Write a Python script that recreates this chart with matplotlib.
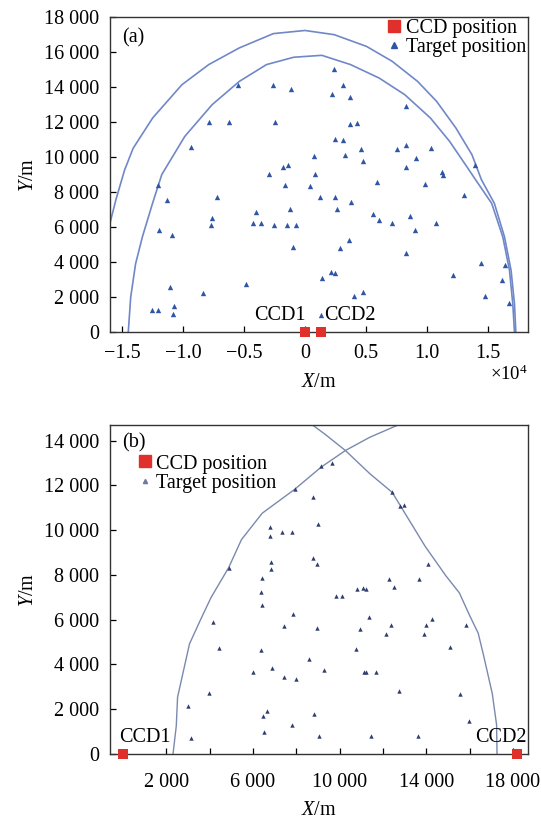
import matplotlib
matplotlib.use("Agg")
import matplotlib.pyplot as plt
from matplotlib.ticker import FuncFormatter, MultipleLocator
from matplotlib.lines import Line2D

plt.rcParams['font.family'] = ['Liberation Serif', 'DejaVu Serif']
plt.rcParams['mathtext.fontset'] = 'custom'
plt.rcParams['mathtext.rm'] = 'Liberation Serif'
plt.rcParams['mathtext.it'] = 'Liberation Serif:italic'

# ---- panel (a) data ----
a_tx = [-5500, -2640, -1130, 2370, 2200, 3140, 3710, -7890, -6270, -2470,
        3710, 4280, -9340, 2430, 3140, 780, 3310, 4590, 4740, 7580,
        8320, 10370, 9110, 8260, 11220, 11300, 13910, -2920, -1780, -1360,
        860, -12070, -1660, 380, 5930, 9880, 13060, -11300, -7210, 1200,
        2430, 8300, 3800, 2600, -1210, -4050, -7610, -7750, -4260, -3570,
        -2550, -1440, -730, 5610, 6100, 8620, 7120, 10760, 9030, -11960,
        -10910, -960, 2860, 3650, 8320, 14460, 16420, 12160, 2140, 2430,
        1410, -4850, -8400, -11110, 4730, 3990, 16190, 14800, 16760, -12530,
        -12040, -10740, -10830, 1350]
a_ty = [14100, 14100, 13900, 15000, 13600, 14100, 13450, 12000, 12000, 12000,
        11900, 11950, 10550, 11000, 10950, 10050, 10100, 10450, 9750, 10450,
        10700, 10500, 9950, 9450, 9150, 8950, 9550, 9000, 9450, 9550,
        9000, 8400, 8400, 8350, 8550, 8450, 7850, 7550, 7700, 7700,
        7700, 12900, 7400, 7000, 7000, 6850, 6500, 6100, 6250, 6200,
        6100, 6100, 6100, 6750, 6400, 6600, 6250, 6250, 5800, 5800,
        5550, 4850, 4800, 5250, 4500, 3950, 3800, 3250, 3400, 3350,
        3100, 2750, 2250, 2550, 2300, 2050, 2950, 2050, 1650, 1250,
        1250, 1500, 1000, 950]

a_outer_x = [-16300, -15500, -14800, -14100, -12500, -10100, -7900, -5400, -2600, 0,
             2400, 5050, 7150, 9240, 10800, 12380, 13700, 14480, 15540, 16370,
             16910, 17190, 17300]
a_outer_y = [5400, 7600, 9260, 10500, 12230, 14130, 15280, 16230, 17050, 17230,
             16990, 16320, 15470, 14320, 13180, 11660, 10130, 8700, 7350, 5440,
             3530, 1620, 0]
a_inner_x = [-14500, -14300, -13900, -13340, -12510, -11750, -9860, -7620, -5390, -3160,
             -930, 1380, 3740, 6090, 8190, 10290, 11860, 13170, 14000, 15320,
             16230, 16780, 17050, 17190]
a_inner_y = [0, 2000, 3900, 5440, 7350, 9000, 11180, 12990, 14320, 15280,
             15700, 15810, 15280, 14510, 13560, 12230, 10900, 9560, 8700, 7350,
             5440, 3530, 1620, 0]

a_ccd_x = [0, 1300]
a_ccd_y = [0, 0]

# ---- panel (b) data ----
b_tx = [4880, 7920, 9120, 9630, 8770, 8990, 6800, 6800, 7340, 7790,
        8770, 8940, 6830, 6850, 6430, 6380, 6430, 7840, 12430, 12800,
        12990, 14080, 13680, 12300, 12510, 10800, 11070, 11230, 9820, 10110,
        11360, 14280, 4160, 4450, 7440, 8980, 10960, 12370, 12160, 14000,
        13900, 15840, 15120, 10740, 6350, 8580, 6000, 6900, 7420, 7970,
        9260, 11120, 11200, 11680, 3950, 3010, 12750, 15580, 15970, 6460,
        6670, 8800, 7790, 6530, 3150, 9040, 11440, 13630]
b_ty = [8330, 11820, 12850, 13010, 11470, 10260, 10140, 9760, 9920, 9920,
        8770, 8470, 8560, 8250, 7880, 7230, 6670, 6270, 11690, 11080,
        11110, 8490, 7810, 7810, 7440, 7370, 7400, 7370, 7070, 7070,
        6100, 6030, 5880, 4740, 5700, 5640, 5600, 5780, 5350, 5780,
        5350, 5780, 4800, 4710, 4660, 4230, 3660, 3840, 3440, 3370,
        3750, 3650, 3650, 3660, 2730, 2160, 2800, 2680, 1460, 1680,
        1910, 1800, 1300, 980, 700, 790, 790, 790]

b_left_x = [2310, 2460, 2520, 3070, 3600, 4070, 4880, 5470, 6430, 7920,
            9150, 10270, 11390, 12510, 12700]
b_left_y = [0, 1250, 2540, 4920, 6040, 7000, 8330, 9580, 10760, 11820,
            12820, 13560, 14150, 14620, 14700]
b_right_x = [17270, 17250, 17050, 16650, 16400, 16000, 15530, 14910, 13950, 12430,
             11390, 10270, 9310, 8750]
b_right_y = [0, 1300, 2700, 4400, 5400, 6200, 7200, 7960, 9280, 11690,
             12530, 13560, 14300, 14700]

b_ccd_x = [0, 18200]
b_ccd_y = [0, 0]

red = '#e0302c'
fs = 14.5


def thousands(v, pos):
    return f"{int(round(v)):,}".replace(",", " ")


fig = plt.figure(figsize=(5.41, 8.22), dpi=100)
ax1 = fig.add_axes([110 / 541, 1 - 332 / 822, 418 / 541, 315 / 822])
ax2 = fig.add_axes([110 / 541, 1 - 754 / 822, 418 / 541, 329 / 822])

# panel (a)
ax1.plot(a_outer_x, a_outer_y, color='#7088c8', lw=1.2)
ax1.plot(a_inner_x, a_inner_y, color='#7088c8', lw=1.2)
ax1.scatter(a_tx, a_ty, marker='^', s=15, color='#2f55a5', linewidths=0, zorder=3)
ax1.scatter(a_ccd_x, a_ccd_y, marker='s', s=60, color=red, linewidths=0, zorder=4, clip_on=False)
ax1.text(-2100, 950, 'CCD1', fontsize=fs, ha='center', va='center')
ax1.text(3650, 950, 'CCD2', fontsize=fs, ha='center', va='center')
ax1.text(0.03, 0.965, '(a)', transform=ax1.transAxes, fontsize=fs, ha='left', va='top')
ax1.set_xlim(-16000, 18300)
ax1.set_ylim(0, 18000)
ax1.yaxis.set_major_locator(MultipleLocator(2000))
ax1.yaxis.set_major_formatter(FuncFormatter(thousands))
ax1.set_xticks([-15000, -10000, -5000, 0, 5000, 10000, 15000])
ax1.xaxis.set_major_formatter(FuncFormatter(
    lambda v, p: '0' if v == 0 else f"{v / 1e4:.1f}".replace('-', '\u2212')))
ax1.text(1.0, -0.105, r'$\times$10$^{4}$', transform=ax1.transAxes, fontsize=fs - 1,
         ha='right', va='top')
ax1.set_xlabel('$X$/m', fontsize=fs, labelpad=7)
ax1.set_ylabel('$Y$/m', fontsize=fs, labelpad=4)
h1 = [Line2D([], [], ls='', marker='s', ms=8, color=red),
      Line2D([], [], ls='', marker='^', ms=4, color='#2f55a5')]
ax1.legend(h1, ['CCD position', 'Target position'], loc='upper right', frameon=False,
           fontsize=fs, handlelength=0.6, handletextpad=0.3, borderaxespad=0.0,
           labelspacing=0.0, borderpad=0.1)

# panel (b)
ax2.plot(b_left_x, b_left_y, color='#7b89ae', lw=1.0)
ax2.plot(b_right_x, b_right_y, color='#7b89ae', lw=1.0)
ax2.scatter(b_tx, b_ty, marker='^', s=10, color='#2e3d6e', linewidths=0, zorder=3)
ax2.scatter(b_ccd_x, b_ccd_y, marker='s', s=60, color=red, linewidths=0, zorder=4, clip_on=False)
ax2.text(1000, 750, 'CCD1', fontsize=fs, ha='center', va='center')
ax2.text(17450, 750, 'CCD2', fontsize=fs, ha='center', va='center')
ax2.text(0.03, 0.975, '(b)', transform=ax2.transAxes, fontsize=fs, ha='left', va='top')
ax2.set_xlim(-600, 18700)
ax2.set_ylim(0, 14700)
ax2.yaxis.set_major_locator(MultipleLocator(2000))
ax2.yaxis.set_major_formatter(FuncFormatter(thousands))
ax2.set_xticks(list(range(2000, 18001, 2000)))
ax2.xaxis.set_major_formatter(FuncFormatter(
    lambda v, p: thousands(v, p) if int(round(v)) % 4000 == 2000 else ''))
ax2.set_xlabel('$X$/m', fontsize=fs, labelpad=6)
ax2.set_ylabel('$Y$/m', fontsize=fs, labelpad=4)
h2 = [Line2D([], [], ls='', marker='s', ms=8, color=red),
      Line2D([], [], ls='', marker='^', ms=3, color='#6f7a9e')]
ax2.legend(h2, ['CCD position', 'Target position'], loc='upper left', frameon=False,
           fontsize=fs, handlelength=0.6, handletextpad=0.25,
           bbox_to_anchor=(0.05, 0.935), borderaxespad=0.0, labelspacing=0.0)

for ax in (ax1, ax2):
    ax.tick_params(direction='in', length=4, width=0.9, labelsize=fs)
    ax.tick_params(axis='y', pad=8)
    for s in ax.spines.values():
        s.set_linewidth(1.0)
        s.set_color('#333333')
ax1.tick_params(axis='x', pad=9)
ax2.tick_params(axis='x', pad=14)

fig.savefig('out.png', dpi=100)
